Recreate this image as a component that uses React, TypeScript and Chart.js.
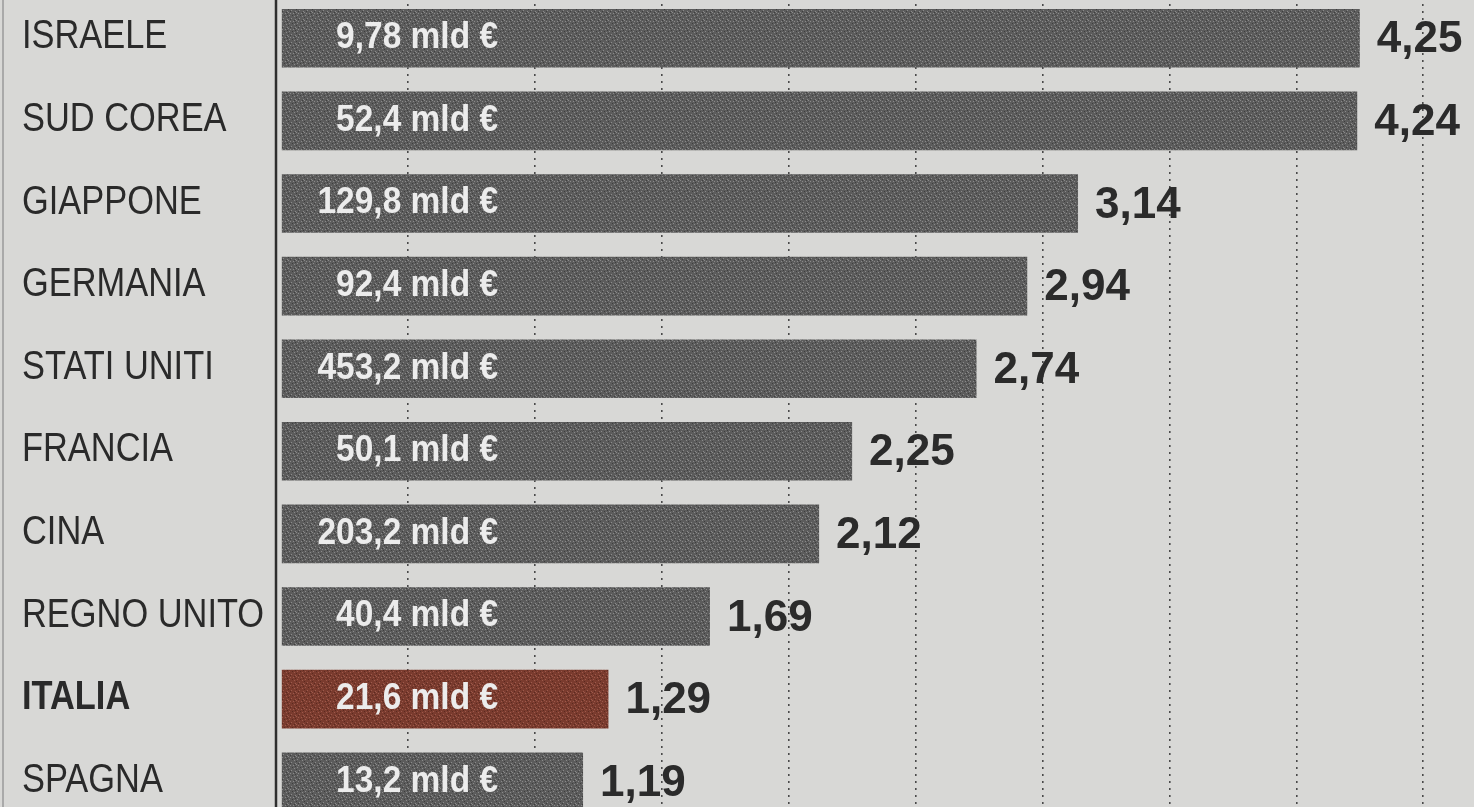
import React, { useEffect, useRef } from "react";
import { Chart, registerables } from "chart.js";

Chart.register(...registerables);

const categories = [
  "ISRAELE",
  "SUD COREA",
  "GIAPPONE",
  "GERMANIA",
  "STATI UNITI",
  "FRANCIA",
  "CINA",
  "REGNO UNITO",
  "ITALIA",
  "SPAGNA",
];
const values = [4.25, 4.24, 3.14, 2.94, 2.74, 2.25, 2.12, 1.69, 1.29, 1.19];
const valueLabels = ["4,25", "4,24", "3,14", "2,94", "2,74", "2,25", "2,12", "1,69", "1,29", "1,19"];
const spendLabels = [
  "9,78 mld €",
  "52,4 mld €",
  "129,8 mld €",
  "92,4 mld €",
  "453,2 mld €",
  "50,1 mld €",
  "203,2 mld €",
  "40,4 mld €",
  "21,6 mld €",
  "13,2 mld €",
];
const highlight = "ITALIA";
const axisMin = 0;
const axisMax = 4.7;
const gridStep = 0.5;
const spendLabelAnchor = 0.855;

const PAPER = "#d8d8d6";
const BAR_GRAY = "#5c5c5c";
const BAR_RED = "#7a3b2e";

function makePattern(base: string, light: string, dark: string) {
  const c = document.createElement("canvas");
  c.width = 8;
  c.height = 8;
  const g = c.getContext("2d")!;
  g.fillStyle = base;
  g.fillRect(0, 0, 8, 8);
  g.fillStyle = light;
  [[1, 2], [5, 0], [3, 5], [7, 6], [0, 7], [6, 3], [2, 0]].forEach(([x, y]) => g.fillRect(x, y, 1, 1));
  g.fillStyle = dark;
  [[4, 2], [0, 4], [6, 7], [2, 6], [7, 1]].forEach(([x, y]) => g.fillRect(x, y, 1, 1));
  return g.createPattern(c, "repeat")!;
}

const labelsPlugin = {
  id: "newsLabels",
  afterDatasetsDraw(chart: any) {
    const ctx = chart.ctx as CanvasRenderingContext2D;
    const xs = chart.scales.x;
    const ys = chart.scales.y;
    const area = chart.chartArea;
    ctx.save();
    ctx.strokeStyle = "#2e2e2e";
    ctx.lineWidth = 2.5;
    ctx.beginPath();
    ctx.moveTo(area.left - 5, 0);
    ctx.lineTo(area.left - 5, chart.height);
    ctx.stroke();
    ctx.strokeStyle = "#9a9a9a";
    ctx.lineWidth = 1.5;
    ctx.beginPath();
    ctx.moveTo(3, 0);
    ctx.lineTo(3, chart.height);
    ctx.stroke();

    categories.forEach((cat, i) => {
      const y = ys.getPixelForValue(i);
      ctx.save();
      ctx.fillStyle = "#2a2a2a";
      ctx.font = (cat === highlight ? "bold " : "") + "40px 'Liberation Sans', Arial, sans-serif";
      ctx.textBaseline = "middle";
      ctx.textAlign = "left";
      ctx.translate(22, y - 1);
      ctx.scale(0.86, 1);
      ctx.fillText(cat, 0, 0);
      ctx.restore();

      ctx.save();
      ctx.fillStyle = "#ececec";
      ctx.font = "bold 36px 'Liberation Sans', Arial, sans-serif";
      ctx.textBaseline = "middle";
      ctx.textAlign = "right";
      ctx.translate(xs.getPixelForValue(spendLabelAnchor), y);
      ctx.scale(0.93, 1);
      ctx.fillText(spendLabels[i], 0, 0);
      ctx.restore();

      ctx.save();
      ctx.fillStyle = "#2b2b2b";
      ctx.font = "bold 44px 'Liberation Sans', Arial, sans-serif";
      ctx.textBaseline = "middle";
      ctx.textAlign = "left";
      ctx.fillText(valueLabels[i], xs.getPixelForValue(values[i]) + 17, y + 2);
      ctx.restore();
    });
    ctx.restore();
  },
};

export default function App() {
  const ref = useRef<HTMLCanvasElement>(null);
  useEffect(() => {
    document.body.style.margin = "0";
    document.body.style.background = PAPER;
    const canvas = ref.current!;
    const grayFill = makePattern(BAR_GRAY, "#8a8a8a", "#3e3e3e");
    const redFill = makePattern(BAR_RED, "#9c5a4c", "#5a2a20");
    const chart = new Chart(canvas, {
      type: "bar",
      data: {
        labels: categories,
        datasets: [
          {
            data: values,
            backgroundColor: categories.map((c) => (c === highlight ? redFill : grayFill)) as any,
            borderWidth: 0,
            barPercentage: 0.71,
            categoryPercentage: 1,
          },
        ],
      },
      options: {
        indexAxis: "y",
        animation: false,
        responsive: false,
        maintainAspectRatio: false,
        layout: { padding: { left: 281, right: 0, top: 0, bottom: 0 } },
        plugins: { legend: { display: false }, tooltip: { enabled: false } },
        scales: {
          x: {
            min: axisMin,
            max: axisMax,
            position: "top",
            ticks: { display: false, stepSize: gridStep },
            grid: {
              drawTicks: false,
              lineWidth: 1.6,
              color: (c: any) => {
                const v = c.tick ? c.tick.value : 0;
                if (v <= axisMin) return "rgba(0,0,0,0)";
                const r = v / gridStep;
                return Math.abs(r - Math.round(r)) < 1e-6 ? "#4a4a4a" : "rgba(0,0,0,0)";
              },
            },
            border: { display: false, dash: [2, 5] },
          },
          y: { display: false },
        },
      },
      plugins: [labelsPlugin],
    });
    return () => chart.destroy();
  }, []);

  return (
    <div
      style={{
        position: "fixed",
        left: 0,
        top: 0,
        width: 1474,
        height: 807,
        overflow: "hidden",
        background: PAPER,
      }}
    >
      <canvas ref={ref} width={1474} height={826} style={{ position: "absolute", left: 0, top: -3 }} />
    </div>
  );
}
